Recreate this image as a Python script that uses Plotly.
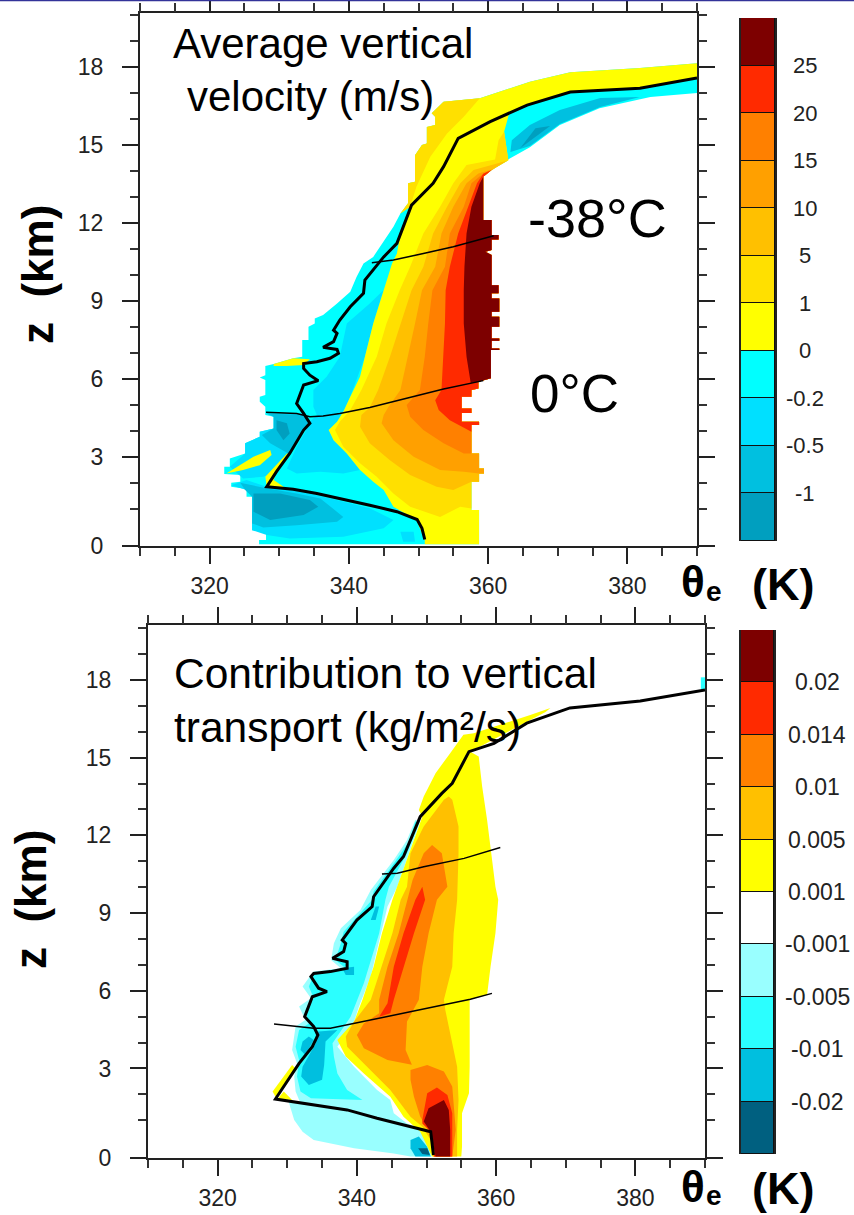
import plotly.graph_objects as go

W, H = 854, 1215

# ---------- axis labels ----------
X_MAJOR = [320, 340, 360, 380]
X_MINOR = [310, 315, 325, 330, 335, 345, 350, 355, 365, 370, 375, 385, 390]
Z_MAJOR_TOP = [-0.42, 3, 6, 9, 12, 15, 18]
Z_MAJOR_BOT = [-0.456, 3, 6, 9, 12, 15, 18]
Z_MAJOR_TEXT = ["0", "3", "6", "9", "12", "15", "18"]
Z_MINOR = [1, 2, 4, 5, 7, 8, 10, 11, 13, 14, 16, 17, 19, 20]

# ---------- colour bars ----------
CB1_COLORS = ["#7d0000", "#ff2a00", "#ff8000", "#ffa000", "#ffc000", "#ffe000",
              "#ffff00", "#00ffff", "#00e0ff", "#00c0e0", "#009fbf"]
CB1_LABELS = ["25", "20", "15", "10", "5", "1", "0", "-0.2", "-0.5", "-1"]
CB2_COLORS = ["#7d0000", "#ff2a00", "#ff8000", "#ffc000", "#ffff00", "#ffffff",
              "#99ffff", "#2bffff", "#00bfdf", "#006080"]
CB2_LABELS = ["0.02", "0.014", "0.01", "0.005", "0.001", "-0.001", "-0.005", "-0.01", "-0.02"]

# ---------- upper panel: average vertical velocity ----------
V_MASK_T = [327.1, 327.1, 328.1, 328.1, 326.1, 326.1, 327.0, 327.0, 326.1, 326.1, 325.3, 325.3, 323.1, 323.1,
            324.4, 324.4, 322.1, 322.1, 322.9, 322.9, 325.1, 325.1, 327.2, 327.2, 329.2, 329.2, 328.0, 328.0,
            327.2, 327.2, 328.0, 328.0, 327.2, 328.0, 328.0, 329.2, 332.0, 333.3, 333.3, 334.2, 334.2, 335.1,
            335.1, 336.3, 338.3, 340.2, 341.1, 342.1, 343.5, 345.4, 346.4, 347.4]
V_MASK_Z = [-0.35, -0.19, -0.19, 0.19, 0.19, 0.51, 0.51, 0.70, 0.70, 1.47, 1.47, 1.77, 1.86, 2.01,
            2.05, 2.31, 2.35, 2.63, 2.63, 2.95, 3.14, 3.53, 3.78, 3.97, 4.10, 4.55, 4.62, 4.94,
            5.13, 5.32, 5.39, 5.96, 6.06, 6.15, 6.50, 6.58, 6.80, 6.86, 7.50, 7.50, 8.01, 8.14,
            8.33, 8.46, 8.91, 9.36, 9.93, 10.45, 10.70, 11.48, 11.86, 12.37]
V_GOLD_T = [347.4, 348.5, 348.5, 349.5, 349.5, 350.5, 351.2, 351.2, 352.4, 352.4, 351.9, 353.6, 358.8,
            356.5, 354.1, 351.7, 349.7, 348.8]
V_GOLD_Z = [12.37, 12.76, 13.53, 13.59, 14.61, 15.0, 15.06, 15.7, 15.77, 16.09, 16.22, 16.67, 16.8,
            16.09, 15.45, 14.55, 13.4, 12.63]
V_TAILTOP_T = [366.0, 371.8, 381.8, 390.0]
V_TAILTOP_Z = [17.44, 17.8, 17.96, 18.15]
V_TAILLOW_T = [390.0, 383.3, 376.0, 370.3, 366.0, 362.7]
V_TAILLOW_Z = [17.0, 16.85, 16.42, 15.77, 14.92, 14.42]
V_EDGE_T = [362.9, 360.5, 359.3, 359.3, 359.3, 360.5, 360.5, 361.5, 361.5, 360.5, 360.5, 359.6, 360.5, 360.5,
            361.5, 361.5, 360.5, 360.5, 361.6, 361.6, 360.5, 360.5, 361.6, 361.6, 360.5, 360.5, 361.6, 361.6,
            360.5, 360.5, 361.6, 361.6, 360.4, 360.4, 358.6, 358.6, 357.6, 357.6, 356.2, 356.2, 357.6, 357.6,
            356.2, 356.2, 358.7, 358.7, 357.6, 357.6, 358.7, 358.7, 359.4, 359.4, 358.7, 358.7, 357.6, 357.6,
            358.7, 358.7]
V_EDGE_Z = [14.42, 14.04, 13.78, 12.88, 12.12, 12.12, 11.54, 11.54, 11.37, 11.37, 10.96, 10.9, 10.77, 9.61,
            9.61, 9.30, 9.30, 9.10, 9.10, 8.59, 8.59, 8.40, 8.40, 8.01, 8.01, 7.56, 7.56, 7.47,
            7.47, 7.18, 7.18, 7.12, 7.12, 6.03, 5.9, 5.64, 5.58, 5.32, 5.32, 4.87, 4.87, 4.70,
            4.70, 4.36, 4.36, 4.23, 4.23, 3.14, 3.14, 2.56, 2.56, 2.37, 2.37, 2.05, 2.05, 0.96,
            0.96, -0.35]
V_ZERO_T = [350.9, 350.9, 349.7, 346.4, 345.0, 343.5, 341.6, 339.7, 337.8, 337.1, 338.3, 339.2, 340.2, 341.6,
            342.3, 343.5, 345.0, 346.2, 346.9, 347.4, 348.8, 347.4]
V_ZERO_Z = [-0.35, -0.19, 0.58, 1.09, 1.73, 2.05, 2.50, 3.14, 3.65, 4.04, 4.36, 4.74, 5.32, 6.09,
            6.86, 8.14, 9.42, 10.45, 10.83, 11.6, 12.63, 12.37]
V_UPPER_T = [348.5, 348.5, 349.5, 349.5, 350.5, 351.2, 351.2, 352.4, 352.4, 351.9, 353.6, 358.8, 366.0, 371.8,
             381.8, 390.0, 390.0, 381.8, 371.8, 365.6, 363.0, 362.3]
V_UPPER_Z = [12.76, 13.53, 13.59, 14.61, 15.0, 15.06, 15.7, 15.77, 16.09, 16.22, 16.67, 16.8, 17.44, 17.8,
             17.96, 18.15, 17.58, 17.19, 17.04, 16.54, 16.2, 15.51]
V_B1_T = [357.6, 356.0, 353.1, 348.8, 346.4, 344.0, 341.6, 339.2, 338.0, 338.7, 340.2, 341.8, 344.0, 345.4,
          347.3, 348.8, 350.7, 353.1, 355.0, 356.9, 361.0, 361.5, 362.3]
V_B1_Z = [1.02, 1.09, 0.70, 1.09, 1.60, 2.24, 2.76, 3.40, 4.04, 4.36, 4.81, 5.58, 6.86, 8.14,
          9.42, 10.32, 11.6, 12.63, 13.53, 14.23, 14.45, 15.19, 15.51]
V_B5_T = [357.6, 355.0, 352.6, 348.8, 345.9, 343.0, 341.6, 341.8, 343.0, 344.2, 345.9, 347.4, 349.0, 350.7,
          352.1, 354.1, 356.0, 357.9, 361.2, 362.7]
V_B5_Z = [2.05, 1.73, 1.86, 2.31, 2.88, 3.53, 4.17, 4.62, 4.91, 5.58, 6.86, 8.14, 9.42, 10.32,
          11.6, 12.63, 13.53, 14.04, 14.3, 14.4]
V_B10_T = [358.7, 356.5, 353.1, 349.3, 346.4, 344.7, 345.0, 345.7, 347.4, 348.5, 349.5, 350.5, 352.4, 353.3,
           355.0, 356.9, 358.6, 361.0]
V_B10_Z = [2.37, 2.44, 2.50, 3.01, 3.65, 4.30, 4.62, 4.94, 5.58, 6.86, 8.14, 9.42, 10.32, 11.6,
           12.63, 13.53, 13.91, 14.1]
V_B15_T = [357.6, 356.5, 353.6, 350.7, 348.8, 348.3, 350.2, 350.9, 351.4, 352.0, 353.8, 354.5, 356.5, 357.6,
           359.3, 360.5]
V_B15_Z = [3.14, 3.14, 3.53, 4.04, 4.55, 5.0, 5.58, 6.86, 8.14, 9.42, 10.32, 11.6, 12.63, 13.53,
           13.91, 14.04]
V_B20_T = [357.6, 354.5, 352.9, 352.4, 353.3, 353.6, 353.8, 353.9, 354.5, 355.7, 357.2, 358.4, 359.3, 360.3]
V_B20_Z = [3.97, 4.42, 4.81, 5.19, 5.58, 6.86, 8.14, 9.42, 10.32, 11.6, 12.63, 13.53, 13.9, 14.04]
V_B25_T = [358.6, 357.5, 356.9, 356.5, 356.5, 356.6, 356.9, 357.6, 358.8, 359.3]
V_B25_Z = [5.9, 5.85, 6.86, 8.14, 9.42, 10.32, 11.6, 12.63, 13.53, 13.78]

V_C1_T = [344.96, 343.5, 342.3, 340.2, 339.2, 338.3, 337.1, 337.8, 339.7, 341.6, 339.2, 335.9, 332.5, 331.1,
          332.5, 333.9, 334.4, 335.4, 334.9, 334.9, 336.8, 338.7, 339.7, 343.0]
V_C1_Z = [9.42, 8.14, 6.86, 5.32, 4.74, 4.36, 4.04, 3.65, 3.14, 2.5, 2.37, 2.44, 2.37, 2.56,
          3.4, 4.04, 4.36, 4.62, 4.94, 5.58, 6.09, 6.86, 8.14, 8.91]
V_C2_T = [323.1, 325.3, 328.2, 332.0, 337.3, 343.0, 346.4, 345.0, 339.2, 331.5, 328.2, 326.1, 326.1, 325.3]
V_C2_Z = [1.92, 2.12, 1.86, 1.73, 1.41, 1.03, 0.58, 0.26, -0.06, -0.13, 0.0, 0.19, 1.47, 1.73]
V_C3_T = [324.4, 328.2, 332.5, 335.9, 339.2, 338.3, 332.5, 327.7, 326.1, 326.1, 325.1]
V_C3_Z = [2.01, 1.80, 1.60, 1.41, 0.70, 0.51, 0.38, 0.29, 0.45, 1.47, 1.73]
V_C4_T = [326.3, 330.1, 334.4, 335.6, 333.5, 328.7, 326.3]
V_C4_Z = [1.6, 1.6, 1.35, 1.09, 0.77, 0.58, 0.9]
V_C5_T = [347.4, 349.3, 349.5, 347.8]
V_C5_Z = [0.13, 0.13, -0.26, -0.26]
V_C6_T = [328.0, 333.7, 334.3, 331.5, 329.6, 327.7, 324.8, 322.9, 325.1, 325.1, 327.2, 327.2, 329.2, 329.2]
V_C6_Z = [4.7, 4.65, 4.3, 3.14, 2.44, 2.24, 2.18, 2.63, 3.14, 3.53, 3.78, 3.97, 4.1, 4.55]
V_C7_T = [328.2, 333.7, 334.2, 332.5, 331.3, 328.7, 327.5, 329.2, 329.2]
V_C7_Z = [4.68, 4.62, 4.3, 3.59, 3.14, 3.53, 3.85, 4.1, 4.55]
V_C8_T = [329.6, 331.1, 331.5, 330.6, 329.6]
V_C8_Z = [4.42, 4.3, 3.91, 3.65, 4.04]
V_C9_T = [363.2, 366.0, 370.3, 376.1, 381.8, 376.1, 370.3, 366.0, 363.4]
V_C9_Z = [14.73, 14.96, 15.81, 16.46, 16.85, 16.81, 16.35, 15.77, 15.19]
V_C10_T = [364.6, 368.9, 366.8]
V_C10_Z = [14.88, 15.73, 15.65]
V_Y1_T = [329.2, 332.0, 334.4, 333.5, 331.1, 329.2]
V_Y1_Z = [6.58, 6.8, 6.76, 6.54, 6.5, 6.5]
V_Y2_T = [322.4, 326.3, 328.7, 328.9, 327.2, 324.8]
V_Y2_Z = [2.37, 3.01, 3.27, 3.08, 2.69, 2.5]
V_Y3_T = [328.0, 331.1, 331.5, 329.6, 329.2, 331.1, 328.2]
V_Y3_Z = [2.24, 3.14, 3.14, 2.44, 2.12, 1.77, 1.86]

V_LINE_T = [350.9, 350.5, 349.8, 346.9, 343.0, 338.7, 335.4, 332.0, 328.2, 329.6, 331.5, 333.5, 334.4, 333.5,
            332.5, 333.5, 335.6, 334.4, 333.5, 333.5, 335.4, 337.3, 338.5, 338.3, 336.3, 337.8, 338.3, 337.8,
            338.7, 340.2, 342.1, 342.3, 345.0, 346.9, 349.0, 352.1, 353.6, 355.7, 360.3, 365.6, 371.8, 381.8, 390.0]
V_LINE_Z = [-0.17, 0.26, 0.6, 0.9, 1.15, 1.41, 1.6, 1.76, 1.86, 2.44, 3.14, 4.04, 4.3, 4.68,
            5.06, 5.77, 5.94, 6.15, 6.41, 6.6, 6.67, 6.8, 6.99, 7.14, 7.22, 7.44, 7.76, 7.88,
            8.27, 8.78, 9.3, 9.81, 10.7, 11.22, 12.69, 13.53, 14.17, 15.26, 15.9, 16.54, 17.04, 17.19, 17.58]
V_ISO0_T = [328.1, 332.5, 334.4, 336.3, 338.7, 343.0, 348.3, 353.6, 359.3]
V_ISO0_Z = [4.72, 4.68, 4.55, 4.58, 4.68, 4.91, 5.26, 5.62, 5.94]
V_ISO38_T = [343.3, 346.4, 350.7, 355.0, 360.8]
V_ISO38_Z = [10.47, 10.58, 10.83, 11.09, 11.51]

# ---------- lower panel: contribution to vertical transport ----------
T_YEL_T = [355.0, 355.1, 355.1, 356.1, 356.2, 356.2, 358.7, 359.2, 359.9, 360.3, 359.9, 359.2, 358.7, 358.0,
           357.5, 356.3, 364.9, 367.1, 367.8, 364.9, 356.8, 355.3, 353.4, 351.3, 349.6, 348.9, 349.4, 347.5,
           345.8, 345.1, 343.6, 342.4, 340.8, 339.6, 337.2, 338.4, 341.0, 344.8, 346.7, 349.1, 350.8]
T_YEL_Z = [-0.40, -0.02, 1.27, 2.04, 3.07, 5.65, 5.84, 6.93, 8.22, 9.51, 10.02, 11.57, 12.6, 13.88,
           15.04, 15.23, 16.46, 16.76, 16.92, 16.65, 15.94, 15.88, 15.17, 14.4, 13.5, 12.98, 12.72, 11.31,
           10.02, 9.51, 8.22, 6.93, 5.65, 4.81, 4.1, 3.46, 2.81, 1.91, 1.14, 0.56, -0.40]
T_N1_T = [338.1, 342.9, 350.1, 347.2, 345.3, 344.8, 342.9, 339.6, 337.2, 339.6, 340.3, 342.0, 342.9, 344.4,
          345.8, 347.5, 349.1, 348.4, 347.2, 345.3, 342.0, 340.5, 337.7, 336.7, 336.3, 337.7, 333.8, 333.4,
          332.2, 333.4, 331.7, 332.6, 331.2, 330.7, 331.4, 331.0, 331.2, 331.9]
T_N1_Z = [1.4, 1.08, 0.56, 0.88, 1.27, 1.78, 2.17, 3.07, 3.84, 4.81, 5.39, 6.55, 7.58, 9.25,
          10.02, 11.31, 12.53, 12.6, 11.82, 11.05, 9.89, 9.12, 8.41, 7.83, 7.19, 6.87, 6.74, 6.61,
          6.16, 5.71, 5.39, 4.87, 4.62, 3.71, 3.2, 2.69, 2.11, 1.66]
T_N1B_T = [328.3, 330.2, 331.0, 332.2, 333.8, 339.6, 345.3, 347.7, 350.8, 350.3, 350.1, 342.9, 338.1]
T_N1B_Z = [1.82, 1.72, 1.01, 0.56, 0.24, -0.08, -0.28, -0.40, -0.40, 0.11, 0.56, 1.08, 1.4]
T_N5_T = [348.4, 347.5, 345.5, 342.4, 342.2, 338.1, 337.7, 336.9, 338.4, 333.8, 333.1, 333.8, 332.6, 333.1,
          331.7, 331.2, 331.7, 331.4, 331.9, 333.4, 340.8, 338.6, 337.2, 336.7, 336.5, 339.1, 341.0, 343.2,
          344.1, 344.6, 347.2, 348.9]
T_N5_Z = [12.53, 11.76, 10.99, 9.83, 9.51, 8.28, 7.83, 7.19, 6.87, 6.61, 6.16, 5.71, 5.26, 4.74,
          4.49, 3.84, 3.33, 2.69, 2.11, 1.85, 1.78, 2.17, 2.81, 3.46, 3.97, 5.0, 6.29, 8.22,
          9.51, 10.02, 11.31, 12.47]
T_N10A_T = [334.1, 337.2, 335.5, 335.3, 335.0, 333.1, 332.0, 332.2, 334.1]
T_N10A_Z = [4.42, 4.49, 4.04, 3.13, 2.56, 2.36, 2.69, 3.07, 3.97]
T_N10B_T = [333.1, 333.8, 332.6, 331.9, 332.2]
T_N10B_Z = [4.23, 4.1, 3.52, 3.71, 4.04]
T_N10C_T = [337.9, 339.6, 339.6, 338.4]
T_N10C_Z = [6.87, 6.93, 6.61, 6.61]
T_N10D_T = [342.7, 343.2, 342.7, 342.0]
T_N10D_Z = [9.25, 9.25, 8.73, 8.73]
T_N10E_T = [347.7, 348.9, 350.1, 350.6, 348.4, 347.7]
T_N10E_Z = [0.24, 0.37, -0.02, -0.40, -0.40, -0.08]
T_N20_T = [348.8, 350.1, 350.5, 349.4]
T_N20_Z = [-0.08, -0.08, -0.34, -0.30]
T_P5_T = [351.0, 350.6, 349.4, 347.7, 344.8, 341.0, 338.6, 338.4, 339.6, 342.0, 343.6, 345.1, 346.3, 347.2,
          347.7, 349.6, 352.5, 353.2, 353.7, 354.6, 354.6, 354.4, 353.9, 353.7, 352.5, 352.7, 353.4, 354.4,
          354.6, 354.4, 354.4]
T_P5_Z = [-0.40, 0.24, 0.75, 1.14, 2.17, 3.2, 3.84, 4.23, 4.81, 5.65, 6.93, 8.22, 9.51, 10.02,
          11.31, 12.34, 13.37, 13.5, 13.37, 12.34, 11.31, 9.51, 8.22, 6.93, 5.65, 5.26, 4.36, 3.07,
          1.78, 0.63, -0.40]
T_P10A_T = [343.2, 344.4, 346.0, 347.2, 348.0, 349.6, 350.8, 352.2, 353.0, 351.5, 350.3, 349.4, 348.9, 347.2,
            347.0, 347.9, 344.4, 341.0, 340.0, 341.0, 343.2]
T_P10A_Z = [5.65, 6.93, 8.22, 9.51, 10.28, 11.31, 11.63, 11.31, 10.02, 9.51, 8.22, 6.93, 5.65, 4.81,
            3.71, 3.14, 3.33, 3.78, 4.29, 4.74, 5.13]
T_P10B_T = [347.7, 350.1, 352.5, 353.7, 354.2, 353.7, 351.0, 350.6, 349.1, 348.2, 347.7]
T_P10B_Z = [2.94, 3.13, 2.88, 2.3, 0.63, -0.40, -0.40, 0.5, 1.14, 1.91, 2.56]
T_P14A_T = [344.4, 345.3, 346.7, 348.4, 349.4, 349.8, 348.2, 346.7, 345.3, 344.8, 343.2]
T_P14A_Z = [5.52, 6.93, 8.22, 9.51, 10.02, 9.51, 8.22, 6.93, 5.65, 5.13, 5.0]
T_P14B_T = [349.4, 350.1, 351.5, 353.0, 353.7, 353.7, 351.1, 350.6, 349.4]
T_P14B_Z = [1.01, 2.04, 2.27, 1.98, 1.27, -0.40, -0.40, 0.56, 0.88]
T_P20_T = [349.6, 350.3, 352.5, 353.2, 353.4, 353.4, 351.3, 350.6]
T_P20_Z = [0.95, 1.46, 1.78, 1.4, 0.63, -0.40, -0.40, 0.56]
T_YA_T = [327.9, 330.7, 331.2, 329.5, 328.3]
T_YA_Z = [2.11, 3.13, 3.0, 2.23, 1.91]
T_YB_T = [329.5, 330.7, 328.6]
T_YB_Z = [2.11, 1.78, 1.82]
T_END_T = [389.4, 390.0, 390.0, 389.4]
T_END_Z = [17.6, 17.6, 18.1, 18.1]

T_LINE_T = [351.0, 350.6, 342.9, 338.6, 328.3, 329.5, 331.7, 333.6, 334.4, 333.8, 332.5, 333.6, 335.7, 334.5,
            333.4, 333.8, 336.2, 338.6, 338.6, 336.5, 338.1, 338.4, 337.9, 340.0, 342.2, 342.4, 345.3, 346.7,
            349.1, 352.2, 353.7, 356.1, 359.7, 364.4, 370.6, 380.7, 390.0]
T_LINE_Z = [-0.34, 0.56, 1.08, 1.4, 1.82, 2.3, 3.2, 3.84, 4.29, 4.62, 5.0, 5.77, 5.97, 6.1,
            6.55, 6.67, 6.74, 6.87, 7.12, 7.25, 7.51, 7.83, 7.96, 8.73, 9.25, 9.63, 10.73, 11.18,
            12.72, 13.62, 14.01, 15.23, 15.55, 16.33, 16.92, 17.19, 17.61]
T_ISO0_T = [328.1, 330.5, 333.8, 336.2, 339.6, 343.4, 347.7, 352.5, 356.3, 359.4]
T_ISO0_Z = [4.72, 4.64, 4.55, 4.55, 4.74, 4.94, 5.19, 5.45, 5.67, 5.9]
T_ISO38_T = [343.6, 345.8, 349.6, 355.4, 360.6]
T_ISO38_Z = [10.51, 10.54, 10.79, 11.11, 11.53]

fig = go.Figure()


def poly(t, z, color, ax="1"):
    fig.add_trace(go.Scatter(x=list(t), y=list(z), mode="lines", fill="toself", fillcolor=color,
                             line=dict(width=0, color=color), hoverinfo="skip", showlegend=False,
                             xaxis="x" + ("" if ax == "1" else ax), yaxis="y" + ("" if ax == "1" else ax)))


def line(t, z, width, ax="1"):
    fig.add_trace(go.Scatter(x=t, y=z, mode="lines", line=dict(width=width, color="#000000"),
                             hoverinfo="skip", showlegend=False,
                             xaxis="x" + ("" if ax == "1" else ax), yaxis="y" + ("" if ax == "1" else ax)))


def band(t, z):
    """closes a level's left boundary along the mask's right edge"""
    pts = [(a, b) for a, b in zip(V_EDGE_T, V_EDGE_Z) if z[0] <= b <= z[-1]]
    return list(t) + [p[0] for p in pts], list(z) + [p[1] for p in pts]


# --- upper panel
poly(V_MASK_T + V_GOLD_T[1:13] + V_TAILTOP_T + V_TAILLOW_T + V_EDGE_T,
     V_MASK_Z + V_GOLD_Z[1:13] + V_TAILTOP_Z + V_TAILLOW_Z + V_EDGE_Z, "#00ffff")
for t, z, c in [(V_C1_T, V_C1_Z, "#00e0ff"), (V_C2_T, V_C2_Z, "#00e0ff"), (V_C3_T, V_C3_Z, "#00c0e0"),
                (V_C4_T, V_C4_Z, "#009fbf"), (V_C5_T, V_C5_Z, "#00e0ff"), (V_C6_T, V_C6_Z, "#00e0ff"),
                (V_C7_T, V_C7_Z, "#00c0e0"), (V_C8_T, V_C8_Z, "#009fbf"), (V_C9_T, V_C9_Z, "#00c0e0"),
                (V_C10_T, V_C10_Z, "#009fbf")]:
    poly(t, z, c)
poly(V_ZERO_T + V_UPPER_T + V_EDGE_T, V_ZERO_Z + V_UPPER_Z + V_EDGE_Z, "#ffff00")
for t, z in [(V_Y1_T, V_Y1_Z), (V_Y2_T, V_Y2_Z), (V_Y3_T, V_Y3_Z)]:
    poly(t, z, "#ffff00")
poly(V_GOLD_T, V_GOLD_Z, "#ffe000")
for t, z, c in [(V_B1_T, V_B1_Z, "#ffe000"), (V_B5_T, V_B5_Z, "#ffc000"), (V_B10_T, V_B10_Z, "#ffa000"),
                (V_B15_T, V_B15_Z, "#ff8000"), (V_B20_T, V_B20_Z, "#ff2a00"), (V_B25_T, V_B25_Z, "#7d0000")]:
    pt, pz = band(t, z)
    poly(pt, pz, c)
line(V_ISO0_T, V_ISO0_Z, 1.5)
line(V_ISO38_T, V_ISO38_Z, 1.5)
line(V_LINE_T, V_LINE_Z, 3)

# --- lower panel
poly(T_N1_T, T_N1_Z, "#99ffff", "2")
poly(T_N1B_T, T_N1B_Z, "#99ffff", "2")
poly(T_N5_T, T_N5_Z, "#2bffff", "2")
for t, z in [(T_N10A_T, T_N10A_Z), (T_N10B_T, T_N10B_Z), (T_N10C_T, T_N10C_Z), (T_N10D_T, T_N10D_Z),
             (T_N10E_T, T_N10E_Z)]:
    poly(t, z, "#00bfdf", "2")
poly(T_N20_T, T_N20_Z, "#006080", "2")
poly(T_YEL_T, T_YEL_Z, "#ffff00", "2")
poly(T_YA_T, T_YA_Z, "#ffff00", "2")
poly(T_YB_T, T_YB_Z, "#ffff00", "2")
poly(T_P5_T, T_P5_Z, "#ffc000", "2")
poly(T_P10A_T, T_P10A_Z, "#ff8000", "2")
poly(T_P10B_T, T_P10B_Z, "#ff8000", "2")
poly(T_P14A_T, T_P14A_Z, "#ff2a00", "2")
poly(T_P14B_T, T_P14B_Z, "#ff2a00", "2")
poly(T_P20_T, T_P20_Z, "#7d0000", "2")
poly(T_END_T, T_END_Z, "#2bffff", "2")
line(T_ISO0_T, T_ISO0_Z, 1.5, "2")
line(T_ISO38_T, T_ISO38_Z, 1.5, "2")
line(T_LINE_T, T_LINE_Z, 3, "2")

# --- colour bars, as stacked cells
for colors, ax in [(CB1_COLORS, "3"), (CB2_COLORS, "4")]:
    for c in reversed(colors):
        fig.add_trace(go.Bar(x=[0], y=[1], width=1, marker=dict(color=c, line=dict(color="#111111", width=1)),
                             hoverinfo="skip", showlegend=False, xaxis="x" + ax, yaxis="y" + ax))

# --- empty traces that bring up the overlay axes holding the opposite-side minor ticks
for ax in ["5", "6"]:
    fig.add_trace(go.Scatter(x=[None], y=[None], mode="lines", hoverinfo="skip", showlegend=False,
                             xaxis="x" + ax, yaxis="y" + ax))


def dom_x(a, b):
    return [a / W, b / W]


def dom_y(top, bottom):
    return [1 - bottom / H, 1 - top / H]


TICK = dict(color="#222222", family="Liberation Sans", size=23)


def main_axes(xdom, ydom, zr, zmaj):
    xa = dict(domain=xdom, range=[310, 390], tickmode="array", tickvals=X_MAJOR, ticktext=[str(v) for v in X_MAJOR],
              ticks="outside", ticklen=16, tickwidth=2, tickcolor="#222222", mirror="ticks", showline=True,
              linecolor="#222222", linewidth=2, showgrid=False, zeroline=False, tickfont=TICK,
              ticklabelstandoff=2,
              minor=dict(tickmode="array", tickvals=X_MINOR, ticks="outside", ticklen=8, tickwidth=1.5,
                         tickcolor="#333333", showgrid=False))
    ya = dict(domain=ydom, range=zr, tickmode="array", tickvals=zmaj, ticktext=Z_MAJOR_TEXT,
              ticks="outside", ticklen=16, tickwidth=2, tickcolor="#222222", mirror="ticks", showline=True,
              linecolor="#222222", linewidth=2, showgrid=False, zeroline=False, tickfont=TICK,
              ticklabelstandoff=14,
              minor=dict(tickmode="array", tickvals=Z_MINOR, ticks="outside", ticklen=8, tickwidth=1.5,
                         tickcolor="#333333", showgrid=False))
    return xa, ya


def opp_axes(xname, yname, xdom, ydom, zr):
    xa = dict(overlaying=xname, anchor=yname, side="top", domain=xdom, range=[310, 390], tickmode="array",
              tickvals=X_MINOR, ticktext=[""] * len(X_MINOR), ticks="outside", ticklen=8, tickwidth=1.5,
              tickcolor="#333333", showgrid=False, zeroline=False, showline=False)
    ya = dict(overlaying=yname, anchor=xname, side="right", domain=ydom, range=zr, tickmode="array",
              tickvals=Z_MINOR, ticktext=[""] * len(Z_MINOR), ticks="outside", ticklen=8, tickwidth=1.5,
              tickcolor="#333333", showgrid=False, zeroline=False, showline=False)
    return xa, ya


def cb_axes(xdom, ydom, n):
    xa = dict(domain=xdom, range=[-0.5, 0.5], visible=False, fixedrange=True)
    ya = dict(domain=ydom, range=[0, n], visible=True, showticklabels=False, ticks="", showgrid=False, zeroline=False,
              showline=True, mirror=True, linecolor="#222222", linewidth=1.5)
    return xa, ya


XD1, YD1, ZR1 = dom_x(140, 697), dom_y(13, 546), [-0.42, 20.08]
XD2, YD2, ZR2 = dom_x(148, 705), dom_y(625, 1158), [-0.456, 20.12]
x1, y1 = main_axes(XD1, YD1, ZR1, Z_MAJOR_TOP)
x2, y2 = main_axes(XD2, YD2, ZR2, Z_MAJOR_BOT)
x3, y3 = cb_axes(dom_x(741, 775), dom_y(18, 541), len(CB1_COLORS))
x4, y4 = cb_axes(dom_x(741, 774), dom_y(630, 1154), len(CB2_COLORS))
x5, y5 = opp_axes("x", "y", XD1, YD1, ZR1)
x6, y6 = opp_axes("x2", "y2", XD2, YD2, ZR2)
y2["anchor"] = "x2"
x2["anchor"] = "y2"
x3["anchor"] = "y3"
y3["anchor"] = "x3"
x4["anchor"] = "y4"
y4["anchor"] = "x4"

ann = []


def text(px, py, s, size, bold=False, anchor="left", angle=0, color="#000000"):
    t = f"<b>{s}</b>" if bold else s
    ann.append(dict(x=px / W, y=1 - py / H, xref="paper", yref="paper", text=t, showarrow=False, xanchor=anchor,
                    yanchor="middle", textangle=angle, align="left", borderpad=0,
                    font=dict(family="Liberation Sans", size=size, color=color)))


text(172, 44, "Average vertical", 42)
text(186, 96, "velocity (m/s)", 42)
text(527, 218, "-38°C", 54)
text(529, 393, "0°C", 53)
text(173, 673, "Contribution to vertical", 42.5)
text(173, 727, "transport (kg/m²/s)", 42.5)
for py in [584, 1188]:
    text(680, py - 2, "θ", 44, bold=True)
    text(705, py + 7, "e", 28, bold=True)
    text(751, py, "(K)", 45, bold=True)
text(38, 275, "z&nbsp;&nbsp;(km)", 44, bold=True, anchor="center", angle=-90)
text(30, 900, "z&nbsp;&nbsp;(km)", 44, bold=True, anchor="center", angle=-90)

for i, s in enumerate(CB1_LABELS):
    ann.append(dict(x=805 / W, xref="paper", y=len(CB1_COLORS) - 1 - i, yref="y3", text=s, showarrow=False,
                    xanchor="center", yanchor="middle", font=dict(family="Liberation Sans", size=22, color="#222222")))
for i, s in enumerate(CB2_LABELS):
    ann.append(dict(x=817 / W, xref="paper", y=len(CB2_COLORS) - 1 - i, yref="y4", text=s, showarrow=False,
                    xanchor="center", yanchor="middle", font=dict(family="Liberation Sans", size=23, color="#222222")))

fig.update_layout(
    width=W, height=H, margin=dict(l=0, r=0, t=0, b=0, pad=0, autoexpand=False), paper_bgcolor="white",
    plot_bgcolor="rgba(0,0,0,0)",
    barmode="stack", bargap=0, showlegend=False, annotations=ann,
    xaxis=x1, yaxis=y1, xaxis2=x2, yaxis2=y2, xaxis3=x3, yaxis3=y3, xaxis4=x4, yaxis4=y4,
    xaxis5=x5, yaxis5=y5, xaxis6=x6, yaxis6=y6,
    shapes=[dict(type="line", xref="paper", yref="paper", x0=0, x1=1, y0=1 - 0.5 / H, y1=1 - 0.5 / H,
                 line=dict(color="#333399", width=1.5))],
)

fig.write_html("out.html", config=dict(displayModeBar=False),
               post_script="document.body.style.margin='0';document.documentElement.style.overflow='hidden';")
